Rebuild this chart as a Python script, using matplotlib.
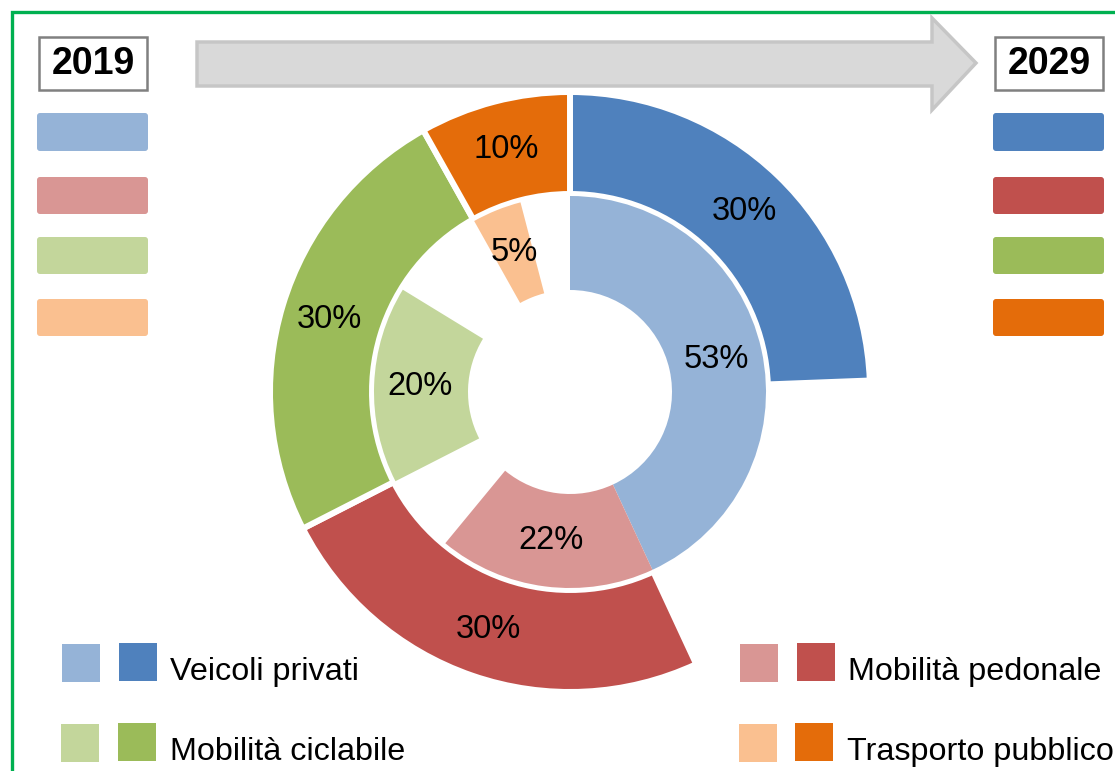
import matplotlib.pyplot as plt
from matplotlib.patches import Rectangle, FancyBboxPatch, Polygon

categories = ['Veicoli privati', 'Mobilità pedonale', 'Mobilità ciclabile', 'Trasporto pubblico']
share_2019 = [53, 22, 20, 5]
share_2029 = [30, 30, 30, 10]
colors_2019 = ['#95b3d7', '#d99694', '#c3d69b', '#fac090']
colors_2029 = ['#4f81bd', '#c0504d', '#9bbb59', '#e46c0a']
years = ['2019', '2029']

W, H = 1115, 771
TXT_FONT = ['Liberation Sans', 'DejaVu Sans']


def py(y):
    # pixel row (from top) -> axes y
    return H - y


def ring_values(shares):
    # every category gets the same sector in both rings (the larger of its two shares);
    # the rest of the sector is left empty
    sector = [max(a, b) for a, b in zip(share_2019, share_2029)]
    vals, labs, hidden = [], [], []
    for s, full in zip(shares, sector):
        vals += [s, full - s]
        labs += [f'{s}%', '']
        hidden += [False, True]
    return vals, labs, hidden


fig = plt.figure(figsize=(W / 100, H / 100), dpi=100)
ax = fig.add_axes([0, 0, 1, 1])

cx, cy = 570, py(392)
pct_props = dict(ha='center', va='center', fontsize=23.5, family=TXT_FONT)

# outer ring: 2029
vals, labs, hidden = ring_values(share_2029)
cols = [c for c in colors_2029 for _ in range(2)]
wedges, texts = ax.pie(vals, radius=300, center=(cx, cy), startangle=90, counterclock=False,
                       colors=cols, labels=labs, labeldistance=251 / 300,
                       wedgeprops=dict(width=102, edgecolor='white', linewidth=4.3),
                       textprops=pct_props)
for w, h in zip(wedges, hidden):
    if h:
        w.set_visible(False)

# inner ring: 2019
vals, labs, hidden = ring_values(share_2019)
cols = [c for c in colors_2019 for _ in range(2)]
wedges, texts = ax.pie(vals, radius=196, center=(cx, cy), startangle=90, counterclock=False,
                       colors=cols, labels=labs, labeldistance=150 / 196,
                       wedgeprops=dict(width=94, linewidth=0),
                       textprops=pct_props)
for w, h in zip(wedges, hidden):
    if h:
        w.set_visible(False)

ax.set_xlim(0, W)
ax.set_ylim(0, H)
ax.axis('off')

# green frame (runs off the right and bottom edges)
ax.add_patch(Rectangle((11.5, -20), W + 20, py(12) + 20, fill=False,
                       edgecolor='#00b050', linewidth=2.4, clip_on=False))

# arrow 2019 -> 2029
arrow = [(197, 42), (932, 42), (932, 18), (976, 63), (932, 110), (932, 86), (197, 86)]
ax.add_patch(Polygon([(x, py(y)) for x, y in arrow], closed=True,
                     facecolor='#d9d9d9', edgecolor='#c6c6c6', linewidth=2.5, joinstyle='miter'))

# year boxes and colour keys
for year, x0, x1, colors, kx0 in [(years[0], 39, 147, colors_2019, 37),
                                  (years[1], 995, 1103, colors_2029, 993)]:
    ax.add_patch(Rectangle((x0, py(90)), x1 - x0, 53, facecolor='white',
                           edgecolor='#808080', linewidth=1.8))
    ax.text((x0 + x1) / 2, py(64), year, ha='center', va='center', fontsize=27,
            fontweight='bold', family=TXT_FONT)
    for c, (y0, y1) in zip(colors, [(113, 151), (177, 214), (237, 274), (299, 336)]):
        ax.add_patch(FancyBboxPatch((kx0 + 2, py(y1) + 2), 107, y1 - y0 - 4,
                                    boxstyle='round,pad=2,rounding_size=3',
                                    facecolor=c, edgecolor='none'))

# legend
legend_pos = [(62, 119, 170, 680), (740, 797, 848, 680), (61, 118, 170, 760), (739, 795, 847, 760)]
for i, (lx, dx, tx, base) in enumerate(legend_pos):
    ax.add_patch(Rectangle((lx, py(base + 2)), 38, 38, facecolor=colors_2019[i], edgecolor='none'))
    ax.add_patch(Rectangle((dx, py(base + 1)), 38, 38, facecolor=colors_2029[i], edgecolor='none'))
    ax.text(tx, py(base), categories[i], ha='left', va='baseline', fontsize=23.3, family=TXT_FONT)

fig.savefig('out.png', dpi=100)
